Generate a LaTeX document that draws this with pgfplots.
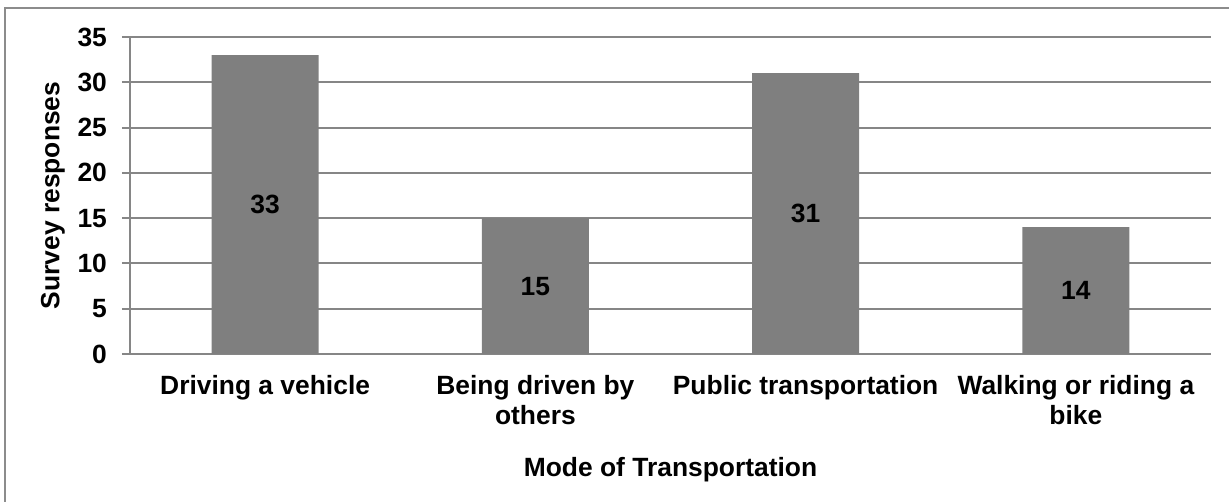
\documentclass[border=0pt]{standalone}
\usepackage{pgfplots}
\pgfplotsset{compat=1.18}
\usepackage{fontspec}
\setmainfont{Liberation Sans}
\definecolor{barc}{HTML}{7F7F7F}
\definecolor{gridc}{HTML}{868686}
\definecolor{framec}{HTML}{8C8C8C}
\begin{document}
\begin{tikzpicture}
\useasboundingbox (-65pt,-74pt) rectangle (549.5pt,177pt);
\draw[framec, line width=1pt] (-62.5pt,-80pt) -- (-62.5pt,173pt) -- (560pt,173pt);
\begin{axis}[
  at={(0pt,0pt)}, anchor=south west,
  scale only axis, width=540.5pt, height=158.5pt,
  xmin=-0.5, xmax=3.5, ymin=0, ymax=35,
  axis x line*=bottom, axis y line*=left,
  axis line style={gridc, line width=1.2pt, -},
  tick align=outside,
  ytick={0,5,...,35},
  ymajorgrids,
  grid style={gridc, line width=1pt},
  major y tick style={gridc, line width=1pt},
  major tick length=4pt,
  xtick={0,1,2,3},
  major x tick style={draw=none},
  xticklabels={Driving a vehicle, Being driven by\\others, Public transportation, Walking or riding a\\bike},
  extra x ticks={-0.5,0.5,1.5,2.5,3.5},
  extra x tick labels={},
  extra x tick style={major x tick style={gridc, line width=1pt}, xmajorgrids=false, major tick length=4.5pt},
  /pgf/number format/assume math mode=true,
  tick label style={font=\fontsize{13.2}{15}\selectfont\bfseries, black},
  xticklabel style={align=center, yshift=-3pt},
  yticklabel style={xshift=-4pt},
  xlabel={Mode of Transportation},
  ylabel={Survey responses},
  every axis x label/.style={at={(axis description cs:0.5,0)}, yshift=-58pt, anchor=center, font=\fontsize{13.2}{15}\selectfont\bfseries, black},
  every axis y label/.style={at={(axis description cs:0,0.5)}, xshift=-38.5pt, rotate=90, anchor=center, font=\fontsize{13.2}{15}\selectfont\bfseries, black},
]
\addplot[ybar, bar width=0.396, fill=barc, draw=none,
  nodes near coords,
  visualization depends on={rawy \as \rawy},
  every node near coord/.append style={anchor=center, font=\fontsize{13.2}{15}\selectfont\bfseries, black, yshift={-2.264286*\rawy}},
  /pgf/number format/assume math mode=true]
  coordinates {(0,33) (1,15) (2,31) (3,14)};
\end{axis}
\end{tikzpicture}
\end{document}
